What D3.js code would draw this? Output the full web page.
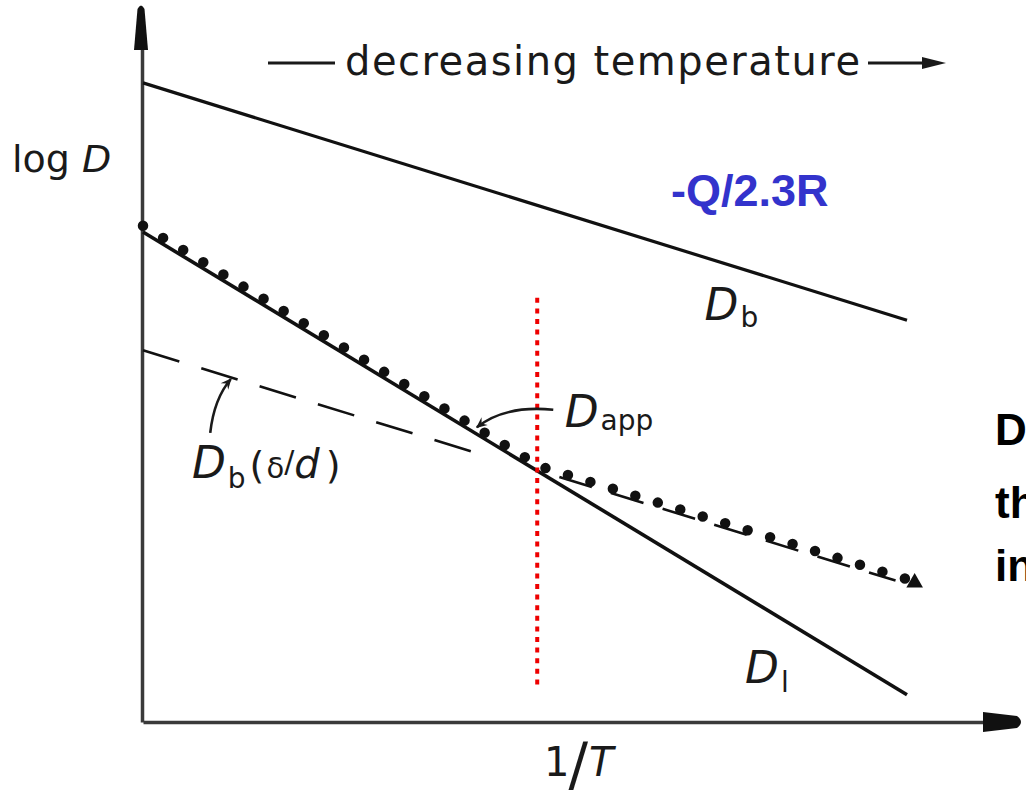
<!DOCTYPE html>
<html>
<head>
<meta charset="utf-8">
<script src="https://cdn.jsdelivr.net/npm/d3@7"></script>
<style>
  body { margin: 0; background: #fff; }
  svg { display: block; }
  .sketch { font-family: "DejaVu Sans", sans-serif; fill: #1a1a1a; }
  .slide { font-family: "Liberation Sans", Arial, sans-serif; font-weight: bold; }
</style>
</head>
<body>
<svg width="1026" height="798"></svg>
<script>
// data, in arbitrary units: x = 1/T, y = log D
const dbLine = [[0, 9.13], [10, 5.74]];
const dlLine = [[0, 7.0], [10, 0.39]];
const dbDeltaLine = [[0, 5.31], [4.55, 3.78]];
const dappDots = [[0, 7.09], [5.2, 3.65], [10.0, 2.04]];
const dappLinks = [[5.45, 3.50], [9.85, 2.02]];
const dappEnd = [10.1, 1.99];
const crossLine = [[5.16, 6.06], [5.16, 0.46]];

const svg = d3.select("svg");
const width = +svg.attr("width");
const height = +svg.attr("height");

const xScale = d3.scaleLinear().domain([0, 10]).range([143, 907]);
const yScale = d3.scaleLinear().domain([0, 10]).range([722, 22]);

const line = d3.line()
  .x(d => xScale(d[0]))
  .y(d => yScale(d[1]));

// arrowhead for the small annotation arrows
svg.append("defs").append("marker")
  .attr("id", "head")
  .attr("viewBox", "0 0 10 10")
  .attr("refX", 9).attr("refY", 5)
  .attr("markerWidth", 16).attr("markerHeight", 11)
  .attr("markerUnits", "userSpaceOnUse")
  .attr("orient", "auto")
  .append("path")
  .attr("d", "M0,0.5 L10,5 L0,9.5 L3.5,5 Z")
  .attr("fill", "#1a1a1a");

// axes, no ticks
const yAxisG = svg.append("g")
  .attr("transform", `translate(${xScale(0) - 1}, 0)`)
  .call(d3.axisLeft(yScale).tickValues([]).tickSizeOuter(0));
const xAxisScale = xScale.copy().domain([0, 11.5]).range([143, 990]);
const xAxisG = svg.append("g")
  .attr("transform", `translate(0, ${yScale(0)})`)
  .call(d3.axisBottom(xAxisScale).tickValues([]).tickSizeOuter(0));
svg.selectAll(".domain").attr("stroke", "#3a3a3a").attr("stroke-width", 3.5);

// axis arrowheads
svg.append("path")
  .attr("d", "M134,50 L137.5,9 Q141,2 144.5,9 L148,50 Z")
  .attr("fill", "#111");
svg.append("path")
  .attr("d", `M983,${yScale(0) - 10} L1017,${yScale(0) - 6} Q1025,${yScale(0)} 1017,${yScale(0) + 6} L983,${yScale(0) + 10} Z`)
  .attr("fill", "#111");

// D_b
svg.append("path")
  .attr("d", line(dbLine))
  .attr("fill", "none").attr("stroke", "#111").attr("stroke-width", 3.2);

// D_l
svg.append("path")
  .attr("d", line(dlLine))
  .attr("fill", "none").attr("stroke", "#111").attr("stroke-width", 3.6);

// D_b(δ/d) dashed
svg.append("path")
  .attr("d", line(dbDeltaLine))
  .attr("fill", "none").attr("stroke", "#111").attr("stroke-width", 2.6)
  .attr("stroke-dasharray", "38 23");

// D_app dots
svg.append("path")
  .attr("d", line(dappDots))
  .attr("fill", "none").attr("stroke", "#111").attr("stroke-width", 10.5)
  .attr("stroke-linecap", "round")
  .attr("stroke-dasharray", "0 23.5");
svg.append("path")
  .attr("d", line(dappLinks))
  .attr("fill", "none").attr("stroke", "#111").attr("stroke-width", 2.6)
  .attr("stroke-dasharray", "34 20");
svg.append("path")
  .attr("transform", `translate(${xScale(dappEnd[0])}, ${yScale(dappEnd[1])})`)
  .attr("d", d3.symbol(d3.symbolTriangle, 120)())
  .attr("fill", "#111");

// red crossover line
svg.append("path")
  .attr("d", line(crossLine))
  .attr("fill", "none").attr("stroke", "#ee0000").attr("stroke-width", 4)
  .attr("stroke-dasharray", "5 5.6");

// annotation arrows
const dappArrow = d3.path();
dappArrow.moveTo(xScale(5.37), yScale(4.46));
dappArrow.quadraticCurveTo(xScale(4.74), yScale(4.53), xScale(4.37), yScale(4.21));
svg.append("path")
  .attr("d", dappArrow.toString())
  .attr("fill", "none").attr("stroke", "#1a1a1a").attr("stroke-width", 2.6)
  .attr("marker-end", "url(#head)");

const deltaArrow = d3.path();
deltaArrow.moveTo(xScale(0.88), yScale(4.13));
deltaArrow.quadraticCurveTo(xScale(0.93), yScale(4.62), xScale(1.15), yScale(4.9));
svg.append("path")
  .attr("d", deltaArrow.toString())
  .attr("fill", "none").attr("stroke", "#1a1a1a").attr("stroke-width", 2.6)
  .attr("marker-end", "url(#head)");

// labels
const label = (x, y, main, sub, dy) => {
  const t = svg.append("text").attr("class", "sketch")
    .attr("x", xScale(x)).attr("y", yScale(y));
  t.append("tspan").attr("font-size", 44).attr("font-style", "italic").text(main);
  t.append("tspan").attr("font-size", 28).attr("dy", dy).attr("dx", 2).text(sub);
  return t;
};
label(7.35, 5.74, "D", "b", 7);
label(5.52, 4.21, "D", "app", 3);
label(7.88, 0.56, "D", "l", 9);
const dbd = label(0.64, 3.49, "D", "b", 10);
dbd.append("tspan").attr("font-size", 38).attr("dy", -10).attr("dx", 4).text("(");
dbd.append("tspan").attr("font-size", 29).attr("dx", 2).text("δ");
dbd.append("tspan").attr("font-size", 30).attr("dy", -6).text("/");
dbd.append("tspan").attr("font-size", 40).attr("font-style", "italic").attr("dy", 6).text("d");
dbd.append("tspan").attr("font-size", 38).attr("dx", 6).text(")");

// axis titles
const yTitle = svg.append("text").attr("class", "sketch")
  .attr("x", 12).attr("y", 172).attr("font-size", 38);
yTitle.append("tspan").text("log ");
yTitle.append("tspan").attr("font-style", "italic").text("D");

const xTitle = svg.append("text").attr("class", "sketch")
  .attr("x", 544).attr("y", 776).attr("font-size", 40);
xTitle.append("tspan").text("1");
xTitle.append("tspan").attr("font-size", 58).attr("dy", 9).attr("dx", -1).text("/");
xTitle.append("tspan").attr("font-style", "italic").attr("dy", -9).attr("dx", 1).text("T");

// top annotation
svg.append("line")
  .attr("x1", 268).attr("x2", 335).attr("y1", 63).attr("y2", 63)
  .attr("stroke", "#1a1a1a").attr("stroke-width", 3);
svg.append("text").attr("class", "sketch")
  .attr("x", 345).attr("y", 75).attr("font-size", 40)
  .attr("textLength", 515).attr("lengthAdjust", "spacing")
  .text("decreasing temperature");
svg.append("line")
  .attr("x1", 868).attr("x2", 930).attr("y1", 63).attr("y2", 63)
  .attr("stroke", "#1a1a1a").attr("stroke-width", 3);
svg.append("path")
  .attr("d", "M922,57 L946,63 L922,69 Z")
  .attr("fill", "#1a1a1a");

// slide text, cut by the right edge as in the source
svg.append("text").attr("class", "slide")
  .attr("x", 671).attr("y", 206).attr("font-size", 45).attr("fill", "#3333cc")
  .text("-Q/2.3R");
const side = ["D", "th", "in"];
const sideY = [445, 518, 581];
svg.selectAll(".side").data(side).join("text")
  .attr("class", "slide side")
  .attr("x", 995).attr("y", (d, i) => sideY[i])
  .attr("font-size", 44).attr("fill", "#000")
  .text(d => d);
</script>
</body>
</html>
